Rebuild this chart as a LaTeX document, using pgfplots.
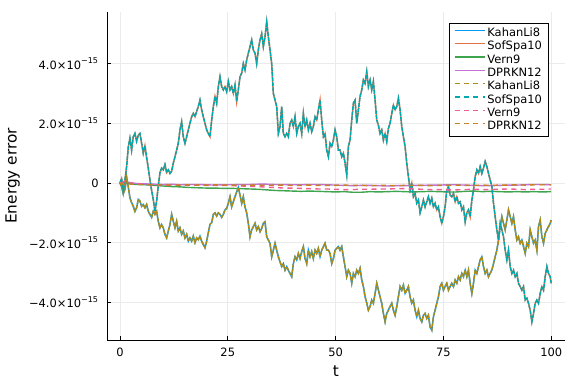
\documentclass[border=0pt]{standalone}
\usepackage{fontspec}
\setmainfont{DejaVu Sans}
\usepackage{pgfplots}
\pgfplotsset{compat=1.18}
\usepackage{pgfplotstable}
\definecolor{jlblue}{rgb}{0,0.604,0.980}
\definecolor{jlorange}{rgb}{0.890,0.435,0.278}
\definecolor{jlgreen}{rgb}{0.243,0.643,0.306}
\definecolor{jlpurple}{rgb}{0.765,0.443,0.824}
\definecolor{jlolive}{rgb}{0.675,0.553,0.094}
\definecolor{jlteal}{rgb}{0,0.663,0.678}
\definecolor{jlpink}{rgb}{0.929,0.369,0.576}
\definecolor{jlbrown}{rgb}{0.776,0.510,0.145}

% values in units of 1e-15
\pgfplotstableread{
t y
0.00 0
0.39 -0.12
0.77 -0.35
1.16 -0.23
1.55 0.2
1.93 -0.12
2.32 -0.50
2.71 -0.66
3.09 -0.78
3.48 -0.95
3.87 -0.83
4.25 -0.55
4.64 -0.61
5.03 -0.78
5.41 -0.72
5.80 -0.83
6.19 -0.72
6.57 -0.95
6.96 -1.05
7.35 -1.15
7.73 -0.95
8.12 -1.05
8.51 -0.95
8.89 -1.28
9.28 -1.50
9.67 -1.39
10.05 -1.50
10.44 -1.72
10.83 -1.84
11.21 -1.61
11.60 -1.39
11.99 -1.05
12.37 -1.28
12.76 -1.50
13.15 -1.28
13.53 -1.61
13.92 -1.50
14.31 -1.72
14.69 -1.61
15.08 -1.84
15.47 -1.72
15.85 -1.95
16.24 -1.84
16.63 -1.95
17.01 -1.78
17.40 -2.00
17.79 -1.84
18.17 -1.90
18.56 -1.78
18.95 -1.95
19.33 -2.06
19.72 -2.17
20.11 -1.95
20.49 -1.67
20.88 -1.39
21.27 -1.33
21.66 -1.05
22.04 -1.00
22.43 -1.11
22.82 -1.00
23.20 -1.05
23.59 -1.15
23.98 -1.05
24.36 -0.90
24.75 -0.85
25.13 -0.68
25.52 -0.46
25.91 -0.8
26.29 -0.63
26.68 -0.46
27.07 -0.3
27.45 -0.15
27.84 -0.4
28.23 -0.68
28.61 -0.46
29.00 -0.8
29.39 -1.0
29.77 -1.35
30.16 -1.8
30.55 -1.57
30.93 -1.46
31.32 -1.35
31.71 -1.57
32.09 -1.46
32.48 -1.63
32.87 -1.52
33.25 -1.35
33.64 -1.3
34.03 -1.8
34.41 -1.91
34.80 -2.02
35.19 -2.47
35.57 -2.25
35.96 -2.02
36.35 -2.25
36.73 -2.47
37.12 -2.64
37.51 -2.8
37.89 -2.7
38.28 -2.92
38.67 -2.8
39.05 -2.92
39.44 -3.03
39.83 -3.14
40.21 -2.7
40.60 -2.47
40.99 -2.58
41.37 -2.36
41.76 -2.53
42.15 -2.3
42.53 -2.13
42.92 -2.53
43.31 -2.7
43.69 -2.25
44.08 -2.47
44.47 -2.3
44.85 -2.53
45.24 -2.25
45.63 -2.36
46.01 -2.19
46.40 -2.47
46.79 -2.25
47.18 -2.13
47.56 -2.02
47.95 -2.25
48.34 -2.25
48.72 -2.36
49.11 -2.7
49.50 -2.53
49.88 -2.25
50.27 -2.19
50.66 -2.13
51.04 -2.25
51.43 -2.13
51.81 -2.47
52.20 -2.8
52.59 -3.14
52.97 -2.92
53.36 -3.03
53.75 -3.36
54.13 -3.03
54.52 -3.14
54.91 -2.92
55.29 -3.03
55.68 -2.86
56.07 -3.25
56.45 -3.47
56.84 -3.81
57.23 -4.02
57.61 -4.26
58.00 -4.14
58.39 -3.92
58.77 -4.03
59.16 -3.7
59.55 -3.36
59.93 -3.59
60.32 -3.81
60.71 -4.03
61.09 -4.37
61.48 -4.65
61.87 -4.37
62.25 -4.26
62.64 -4.14
63.03 -4.03
63.41 -4.26
63.80 -4.43
64.19 -4.14
64.57 -3.81
64.96 -3.47
65.35 -3.59
65.73 -3.42
66.12 -3.7
66.51 -3.59
66.89 -3.47
67.28 -3.81
67.67 -4.03
68.05 -3.92
68.44 -4.26
68.83 -4.48
69.21 -4.26
69.60 -4.54
69.99 -4.65
70.37 -4.43
70.76 -4.37
71.15 -4.54
71.53 -4.43
71.92 -4.82
72.31 -4.93
72.69 -4.48
73.08 -4.26
73.47 -4.03
73.85 -3.81
74.24 -3.47
74.63 -3.36
75.01 -3.59
75.40 -3.47
75.79 -3.36
76.17 -3.59
76.56 -3.47
76.95 -3.36
77.34 -3.47
77.73 -3.25
78.12 -3.36
78.50 -3.14
78.89 -3.25
79.28 -3.03
79.66 -3.14
80.05 -2.92
80.44 -3.14
80.82 -2.92
81.21 -3.36
81.60 -3.7
81.98 -3.36
82.37 -2.92
82.76 -3.03
83.14 -2.8
83.53 -2.58
83.92 -2.47
84.30 -2.8
84.69 -3.03
85.08 -2.92
85.46 -3.14
85.85 -3.03
86.24 -2.92
86.62 -2.7
87.01 -2.47
87.40 -2.25
87.78 -1.91
88.17 -1.46
88.56 -1.13
88.94 -1.35
89.33 -1.57
89.72 -1.24
90.10 -0.9
90.49 -1.13
90.88 -1.35
91.26 -1.13
91.65 -1.57
92.04 -1.91
92.42 -1.8
92.81 -2.02
93.20 -1.91
93.58 -2.13
93.97 -2.36
94.36 -2.02
94.74 -2.13
95.13 -1.57
95.52 -1.8
95.90 -2.02
96.29 -1.91
96.68 -2.25
97.06 -1.46
97.45 -1.24
97.84 -1.8
98.22 -2.02
98.61 -1.69
99.00 -1.57
99.38 -1.46
99.77 -1.35
100.00 -1.24
}\kahan

\pgfplotstableread{
t y
0.00 0
0.39 0.15
0.77 -0.3
1.16 0.1
1.55 0.55
1.93 1.2
2.32 1.5
2.71 1.1
3.09 1.55
3.48 1.66
3.87 1.4
4.25 1.6
4.64 1.66
5.03 1.33
5.41 1.0
5.80 1.25
6.19 0.85
6.57 0.5
6.96 0.1
7.35 -0.25
7.73 -0.55
8.12 -0.95
8.51 -0.6
8.89 -0.1
9.28 0.35
9.67 0.5
10.05 0.44
10.44 0.62
10.83 0.35
11.21 0.44
11.60 0.32
11.99 0.4
12.37 0.66
12.76 0.88
13.15 1.1
13.53 1.33
13.92 1.78
14.31 2.05
14.69 1.55
15.08 1.33
15.47 1.55
15.85 1.78
16.24 2.0
16.63 2.22
17.01 2.33
17.40 2.22
17.79 2.4
18.17 2.56
18.56 2.78
18.95 2.45
19.33 2.22
19.72 2.0
20.11 1.78
20.49 1.66
20.88 1.55
21.27 2.1
21.66 2.56
22.04 2.9
22.43 2.67
22.82 3.23
23.20 3.56
23.59 3.23
23.98 3.12
24.36 3.23
24.75 3.06
25.13 3.4
25.52 3.12
25.91 3.23
26.29 3.0
26.68 3.28
27.07 2.73
27.45 3.12
27.84 3.56
28.23 3.68
28.61 4.0
29.00 3.79
29.39 4.12
29.77 4.35
30.16 4.57
30.55 4.79
30.93 4.46
31.32 4.35
31.71 4.0
32.09 4.46
32.48 4.79
32.87 5.0
33.25 4.57
33.64 4.9
34.03 5.4
34.41 4.9
34.80 4.46
35.19 4.0
35.57 3.0
35.96 2.78
36.35 2.56
36.73 1.66
37.12 1.89
37.51 2.56
37.89 1.66
38.28 1.55
38.67 1.66
39.05 1.55
39.44 2.0
39.83 2.11
40.21 1.89
40.60 2.22
40.99 1.66
41.37 1.89
41.76 2.0
42.15 1.66
42.53 2.33
42.92 1.89
43.31 2.11
43.69 1.78
44.08 2.0
44.47 1.72
44.85 1.89
45.24 2.22
45.63 2.11
46.01 2.45
46.40 2.78
46.79 2.11
47.18 1.55
47.56 1.66
47.95 1.1
48.34 0.88
48.72 1.33
49.11 1.22
49.50 1.44
49.88 1.78
50.27 1.55
50.66 1.1
51.04 1.1
51.43 0.88
51.81 1.0
52.20 0.66
52.59 0.27
52.97 1.22
53.36 1.44
53.75 2.11
54.13 2.67
54.52 2.78
54.91 2.0
55.29 2.45
55.68 2.9
56.07 3.12
56.45 3.45
56.84 3.34
57.23 3.73
57.61 3.23
58.00 3.45
58.39 3.12
58.77 3.4
59.16 2.78
59.55 2.11
59.93 1.94
60.32 1.66
60.71 1.78
61.09 1.44
61.48 1.66
61.87 1.39
62.25 1.83
62.64 2.0
63.03 2.33
63.41 2.61
63.80 2.45
64.19 2.56
64.57 2.84
64.96 2.45
65.35 1.89
65.73 1.55
66.12 1.22
66.51 0.66
66.89 0.21
67.28 -0.23
67.67 0
68.05 -0.46
68.44 -0.35
68.83 -0.68
69.21 -0.57
69.60 -1.0
69.99 -0.8
70.37 -0.57
70.76 -0.8
71.15 -0.63
71.53 -0.46
71.92 -0.68
72.31 -0.51
72.69 -0.8
73.08 -0.68
73.47 -0.9
73.85 -0.8
74.24 -1.13
74.63 -1.35
75.01 -1.13
75.40 -0.8
75.79 -0.23
76.17 -0.12
76.56 -0.4
76.95 -0.46
77.34 -0.35
77.73 -0.63
78.12 -0.46
78.50 -0.68
78.89 -0.63
79.28 -0.9
79.66 -0.8
80.05 -1.3
80.44 -1.0
80.82 -0.9
81.21 -1.13
81.60 -0.57
81.98 -0.23
82.37 0.21
82.76 0.44
83.14 0.32
83.53 0.55
83.92 0.32
84.30 0.5
84.69 0.72
85.08 0.55
85.46 0.32
85.85 0.1
86.24 -0.12
86.62 -0.68
87.01 -1.13
87.40 -1.57
87.78 -1.91
88.17 -1.35
88.56 -1.57
88.94 -1.8
89.33 -2.25
89.72 -2.58
90.10 -2.25
90.49 -2.8
90.88 -3.03
91.26 -2.92
91.65 -3.14
92.04 -3.03
92.42 -3.36
92.81 -3.47
93.20 -3.59
93.58 -3.47
93.97 -3.92
94.36 -3.86
94.74 -4.03
95.13 -4.26
95.52 -4.65
95.90 -4.37
96.29 -4.03
96.68 -3.92
97.06 -4.03
97.45 -3.7
97.84 -3.47
98.22 -3.59
98.61 -3.14
99.00 -2.8
99.38 -3.03
99.77 -3.14
100.00 -3.36
}\sofspa

\pgfplotstableread{
t y
0 0.00
1 0.03
2 -0.02
3 -0.04
4 -0.05
6 -0.06
8 -0.08
10 -0.10
12 -0.12
14 -0.13
16 -0.15
18 -0.16
20 -0.17
22 -0.17
24 -0.18
26 -0.18
28 -0.19
30 -0.20
32 -0.21
34 -0.23
36 -0.25
38 -0.26
40 -0.27
42 -0.28
44 -0.27
46 -0.28
48 -0.29
50 -0.30
52 -0.29
54 -0.31
56 -0.31
58 -0.29
60 -0.30
62 -0.29
64 -0.28
66 -0.29
68 -0.30
70 -0.29
72 -0.28
74 -0.29
76 -0.30
78 -0.30
80 -0.28
82 -0.27
84 -0.29
86 -0.28
88 -0.29
90 -0.30
92 -0.29
94 -0.30
96 -0.29
98 -0.30
100 -0.29
}\vern

\pgfplotstableread{
t y
0 0.00
1 0.05
2 0.02
4 -0.02
6 -0.03
8 -0.04
10 -0.05
12 -0.04
14 -0.06
16 -0.05
18 -0.05
20 -0.06
22 -0.07
24 -0.06
26 -0.06
28 -0.05
30 -0.05
32 -0.04
34 -0.04
36 -0.05
38 -0.05
40 -0.06
42 -0.06
44 -0.05
46 -0.05
48 -0.06
50 -0.07
52 -0.08
54 -0.09
56 -0.08
58 -0.08
60 -0.09
62 -0.10
64 -0.09
66 -0.09
68 -0.08
70 -0.08
72 -0.07
74 -0.07
76 -0.06
78 -0.06
80 -0.07
82 -0.08
84 -0.09
86 -0.09
88 -0.08
90 -0.07
92 -0.07
94 -0.06
96 -0.05
98 -0.05
100 -0.06
}\dprk

\pgfplotstableread{
t y
0 0.00
1 0.04
2 0.00
4 -0.03
6 -0.05
8 -0.06
10 -0.07
12 -0.07
14 -0.08
16 -0.07
18 -0.07
20 -0.08
22 -0.08
24 -0.08
26 -0.09
28 -0.10
30 -0.11
32 -0.12
34 -0.14
36 -0.15
38 -0.17
40 -0.17
42 -0.18
44 -0.19
46 -0.20
48 -0.20
50 -0.21
52 -0.22
54 -0.22
56 -0.21
58 -0.21
60 -0.20
62 -0.20
64 -0.19
66 -0.19
68 -0.20
70 -0.21
72 -0.22
74 -0.22
76 -0.23
78 -0.23
80 -0.22
82 -0.21
84 -0.22
86 -0.22
88 -0.21
90 -0.20
92 -0.21
94 -0.22
96 -0.21
98 -0.21
100 -0.20
}\vernd

\pgfplotstableread{
t y
0 0.00
1 -0.05
2 -0.03
4 -0.05
6 -0.05
8 -0.06
10 -0.06
12 -0.07
14 -0.07
16 -0.06
18 -0.07
20 -0.07
22 -0.06
24 -0.07
26 -0.07
28 -0.08
30 -0.07
32 -0.07
34 -0.08
36 -0.07
38 -0.07
40 -0.08
42 -0.08
44 -0.07
46 -0.08
48 -0.08
50 -0.08
52 -0.07
54 -0.08
56 -0.08
58 -0.09
60 -0.08
62 -0.08
64 -0.09
66 -0.08
68 -0.08
70 -0.08
72 -0.09
74 -0.08
76 -0.08
78 -0.07
80 -0.08
82 -0.08
84 -0.07
86 -0.08
88 -0.07
90 -0.07
92 -0.06
94 -0.07
96 -0.06
98 -0.06
100 -0.06
}\dprkd

\begin{document}
\begin{tikzpicture}
\path[use as bounding box] (0,0) rectangle (432pt,288pt);
\begin{axis}[
  at={(80.25pt,33pt)}, anchor=south west,
  scale only axis, width=343.5pt, height=246pt,
  xmin=-3, xmax=103.2, ymin=-5.26, ymax=5.73,
  axis x line*=bottom, axis y line*=left,
  axis line style={black, line width=0.6pt},
  tick align=inside, major tick length=3pt,
  tick style={black, line width=0.5pt},
  xtick={0,25,50,75,100}, xticklabels={0,25,50,75,100},
  ytick={-4,-2,0,2,4},
  yticklabels={−4.0×10\textsuperscript{−15},−2.0×10\textsuperscript{−15},0,2.0×10\textsuperscript{−15},4.0×10\textsuperscript{−15}},
  grid=major, major grid style={black!8, line width=0.5pt},
  ticklabel style={font=\fontsize{8.6}{10}\selectfont},
  xticklabel style={inner sep=0pt, yshift=-5.8pt},
  yticklabel style={inner sep=0pt, xshift=-6pt},
  xlabel={t}, ylabel={Energy error},
  label style={font=\fontsize{11.5}{13}\selectfont},
  xlabel style={at={(axis description cs:0.5,-0.0945)}, anchor=center},
  ylabel style={at={(axis description cs:-0.206,0.5)}, anchor=center},
  legend style={at={(axis description cs:0.965,0.9665)}, anchor=north east,
    draw=black, line width=0.6pt, font=\fontsize{8.6}{10}\selectfont,
    inner xsep=3.5pt, inner ysep=3.2pt, row sep=1.3pt,
    nodes={text height=6.6pt, text depth=2.1pt, inner ysep=0pt, inner xsep=1.5pt}},
  legend cell align=left,
  legend image code/.code={\draw[#1] (0pt,2.4pt) -- (22.5pt,2.4pt);},
]
\addplot[draw=jlblue, line width=1.1pt, forget plot] table {\kahan};
\addplot[draw=jlorange, line width=1.1pt, forget plot] table {\sofspa};
\addplot[draw=jlgreen, line width=1.05pt, forget plot] table {\vern};
\addplot[draw=jlpurple, line width=1.05pt, forget plot] table {\dprk};
\addplot[draw=jlolive, line width=1.1pt, dash pattern=on 3pt off 0.8pt, forget plot] table {\kahan};
\addplot[draw=jlteal, line width=1.1pt, dash pattern=on 3pt off 0.8pt, forget plot] table {\sofspa};
\addplot[draw=jlpink, line width=1.05pt, dash pattern=on 3.8pt off 3.2pt, forget plot] table {\vernd};
\addplot[draw=jlbrown, line width=1.05pt, dash pattern=on 3.8pt off 3.2pt, forget plot] table {\dprkd};
\addlegendimage{draw=jlblue, line width=1.05pt}
\addlegendimage{draw=jlorange, line width=1.05pt}
\addlegendimage{draw=jlgreen, line width=1.05pt}
\addlegendimage{draw=jlpurple, line width=1.05pt}
\addlegendimage{draw=jlolive, line width=1.05pt, dash pattern=on 3.8pt off 3.2pt}
\addlegendimage{draw=jlteal, line width=1.05pt, dash pattern=on 3.8pt off 3.2pt}
\addlegendimage{draw=jlpink, line width=1.05pt, dash pattern=on 3.8pt off 3.2pt}
\addlegendimage{draw=jlbrown, line width=1.05pt, dash pattern=on 3.8pt off 3.2pt}
\legend{KahanLi8,SofSpa10,Vern9,DPRKN12,KahanLi8,SofSpa10,Vern9,DPRKN12}
\end{axis}
\end{tikzpicture}
\end{document}
